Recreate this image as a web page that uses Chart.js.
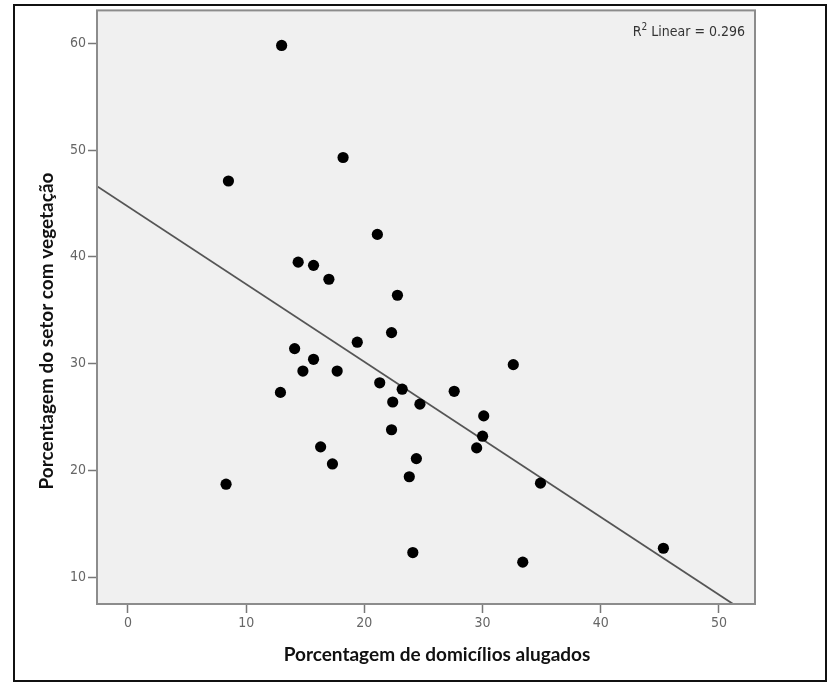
<!DOCTYPE html>
<html>
<head>
<meta charset="utf-8">
<script src="https://cdn.jsdelivr.net/npm/chart.js@4/dist/chart.umd.min.js"></script>
<style>
  html, body { margin: 0; padding: 0; background: #fff; }
  #wrap { position: relative; width: 832px; height: 685px; }
</style>
</head>
<body>
<div id="wrap"><canvas id="scatterChart" width="832" height="685"></canvas></div>
<script>
// porcentagem de domicilios alugados (x) / porcentagem do setor com vegetacao (y)
const rentedPct = [13.0, 8.5, 18.2, 21.1, 14.4, 15.7, 17.0, 22.8, 22.3, 19.4, 14.1, 32.6,
  15.7, 14.8, 17.7, 12.9, 21.3, 23.2, 27.6, 22.4, 24.7, 30.1, 22.3, 30.0, 16.3, 29.5,
  24.4, 17.3, 23.8, 34.9, 8.3, 24.1, 45.3, 33.4];
const vegetationPct = [59.8, 47.1, 49.3, 42.1, 39.5, 39.2, 37.9, 36.4, 32.9, 32.0, 31.4, 29.9,
  30.4, 29.3, 29.3, 27.3, 28.2, 27.6, 27.4, 26.4, 26.2, 25.1, 23.8, 23.2, 22.2, 22.1,
  21.1, 20.6, 19.4, 18.8, 18.7, 12.3, 12.7, 11.4];

// reta de ajuste linear
const fitIntercept = 44.7;
const fitSlope = -0.727;
const r2Text = "0.296";

const xRange = [-2.62, 53.05];
const yRange = [7.48, 63.08];
const xTicks = [0, 10, 20, 30, 40, 50];
const yTicks = [10, 20, 30, 40, 50, 60];

const xTitle = "Porcentagem de domicílios alugados";
const yTitle = "Porcentagem do setor com vegetação";

const points = rentedPct.map((x, i) => ({ x: x, y: vegetationPct[i] }));
const fitLine = xRange.map((x) => ({ x: x, y: fitIntercept + fitSlope * x }));

const narrow = "'Liberation Sans Narrow', 'DejaVu Sans Condensed', sans-serif";
const titleFont = "bold 19px Lato, 'Open Sans', sans-serif";

const framePlugin = {
  id: "frame",
  beforeDraw(chart) {
    const { ctx, chartArea: a } = chart;
    ctx.save();
    ctx.fillStyle = "#f0f0f0";
    ctx.fillRect(a.left, a.top, a.right - a.left, a.bottom - a.top);
    ctx.restore();
  },
  afterDraw(chart) {
    const { ctx, chartArea: a } = chart;
    ctx.save();
    // caixa do grafico
    ctx.strokeStyle = "#8c8c8c";
    ctx.lineWidth = 2;
    ctx.strokeRect(a.left, a.top, a.right - a.left, a.bottom - a.top);
    // moldura externa
    ctx.strokeStyle = "#111";
    ctx.lineWidth = 2;
    ctx.strokeRect(14, 5, 812, 676);

    // titulos dos eixos
    ctx.fillStyle = "#111";
    ctx.font = titleFont;
    ctx.textAlign = "center";
    ctx.textBaseline = "middle";
    ctx.fillText(xTitle, 437, 655);
    ctx.save();
    ctx.translate(47, 331);
    ctx.rotate(-Math.PI / 2);
    ctx.fillText(yTitle, 0, 0);
    ctx.restore();

    // R2 Linear
    ctx.fillStyle = "#333";
    ctx.textBaseline = "alphabetic";
    ctx.textAlign = "right";
    ctx.font = "14px " + narrow;
    const rest = " Linear = " + r2Text;
    const rightX = a.right - 10;
    const baseY = a.top + 26;
    ctx.fillText(rest, rightX, baseY);
    const wRest = ctx.measureText(rest).width;
    ctx.font = "10px " + narrow;
    ctx.fillText("2", rightX - wRest, baseY - 6);
    const w2 = ctx.measureText("2").width;
    ctx.font = "14px " + narrow;
    ctx.fillText("R", rightX - wRest - w2, baseY);
    ctx.restore();
  },
};

const ctx = document.getElementById("scatterChart");

new Chart(ctx, {
  type: "scatter",
  data: {
    datasets: [
      {
        label: "dados",
        data: points,
        backgroundColor: "#000",
        borderColor: "#000",
        borderWidth: 0,
        pointRadius: 5.6,
        pointHoverRadius: 5.6,
      },
      {
        type: "line",
        label: "ajuste",
        data: fitLine,
        borderColor: "#555",
        borderWidth: 1.8,
        pointRadius: 0,
        fill: false,
      },
    ],
  },
  options: {
    responsive: false,
    animation: false,
    events: [],
    layout: { padding: { top: 9, right: 77, left: 0, bottom: 0 } },
    plugins: { legend: { display: false }, tooltip: { enabled: false } },
    scales: {
      x: {
        type: "linear",
        min: xRange[0],
        max: xRange[1],
        afterFit: (s) => { s.height = 81; },
        afterBuildTicks: (s) => { s.ticks = xTicks.map((v) => ({ value: v })); },
        grid: { drawOnChartArea: false, color: "#777", tickLength: 9, tickWidth: 1.5 },
        border: { display: false },
        ticks: { color: "#666", font: { family: narrow, size: 14 }, padding: 2 },
        title: { display: false },
      },
      y: {
        type: "linear",
        min: yRange[0],
        max: yRange[1],
        afterFit: (s) => { s.width = 97; },
        afterBuildTicks: (s) => { s.ticks = yTicks.map((v) => ({ value: v })); },
        grid: { drawOnChartArea: false, color: "#777", tickLength: 9, tickWidth: 1.5 },
        border: { display: false },
        ticks: { color: "#666", font: { family: narrow, size: 14 }, padding: 2 },
        title: { display: false },
      },
    },
  },
  plugins: [framePlugin],
});
</script>
</body>
</html>
